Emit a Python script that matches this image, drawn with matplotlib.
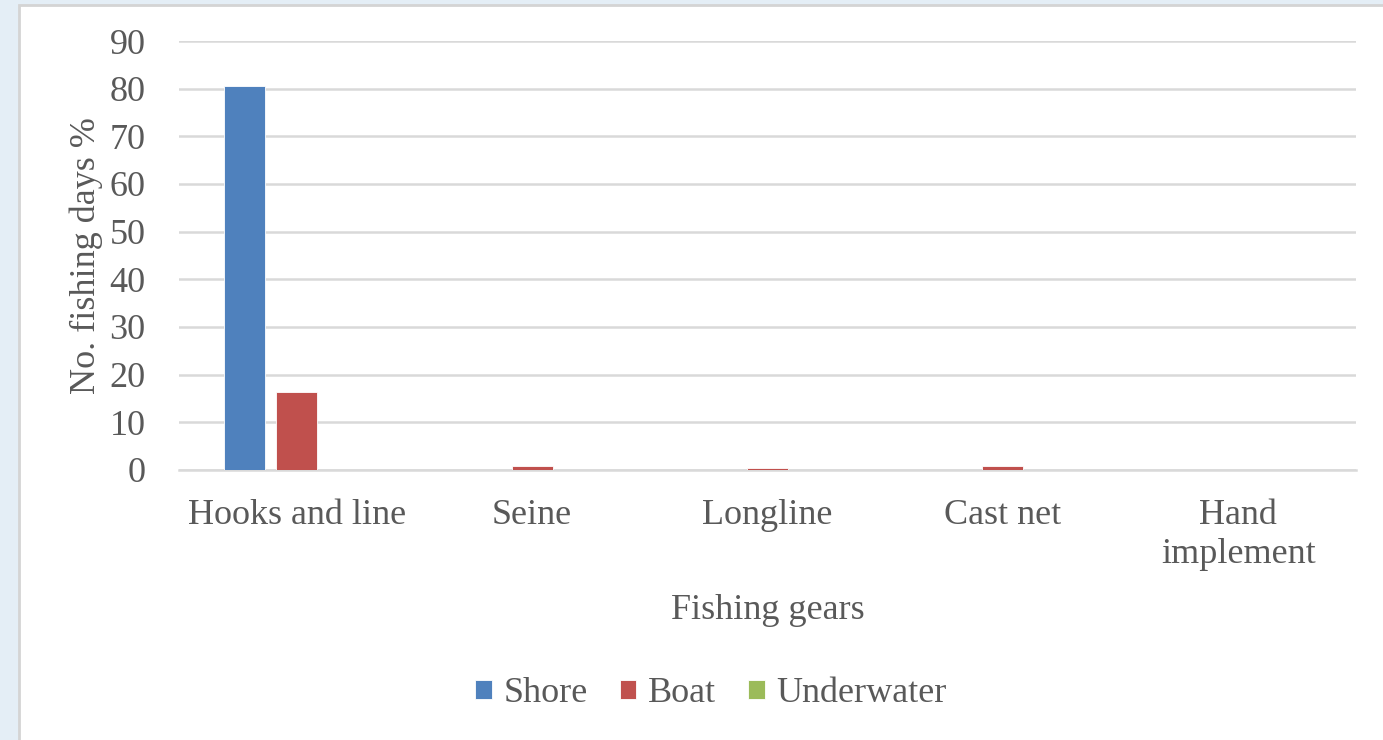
import matplotlib.pyplot as plt
import numpy as np
from matplotlib.patches import Rectangle

plt.rcParams['font.family'] = ['Liberation Serif', 'DejaVu Serif']

# data
gears = ['Hooks and line', 'Seine', 'Longline', 'Cast net', 'Hand\nimplement']
series = ['Shore', 'Boat', 'Underwater']
shore = [80.5, 0, 0, 0, 0]
boat = [16.4, 0.9, 0.5, 0.9, 0]
underwater = [0, 0, 0, 0, 0]
colors = ['#4f81bd', '#c0504d', '#9bbb59']
yticks = [0, 10, 20, 30, 40, 50, 60, 70, 80, 90]

txt = '#595959'
fs = 26

fig = plt.figure(figsize=(13.83, 7.40), dpi=100)
fig.patch.set_facecolor('#e4eef6')
fig.patches.append(Rectangle((19/1383, -0.01), 1.0, 1 - 5/740 + 0.01,
                             transform=fig.transFigure, facecolor='white',
                             edgecolor='#d4d4d4', linewidth=2, zorder=-10))

ax = fig.add_axes([179/1383, 1 - 470/740, (1356 - 179)/1383, (470 - 41)/740])
ax.set_facecolor('none')

x = np.arange(len(gears))
w = 0.175
step = 0.222
for i, (vals, name) in enumerate(zip([shore, boat, underwater], series)):
    ax.bar(x + (i - 1) * step, vals, width=w, color=colors[i], label=name,
           edgecolor='white', linewidth=0.6, zorder=3)

ax.set_xlim(-0.5, len(gears) - 0.5)
ax.set_ylim(0, 90)
ax.set_yticks(yticks)
ax.yaxis.grid(True, color='#d9d9d9', linewidth=1.8, zorder=0)
ax.set_axisbelow(True)
for s in ['top', 'right', 'left']:
    ax.spines[s].set_visible(False)
ax.spines['bottom'].set_color('#d9d9d9')
ax.spines['bottom'].set_linewidth(1.8)
ax.tick_params(axis='both', length=0, labelsize=fs, labelcolor=txt)
ax.tick_params(axis='y', pad=24)
ax.tick_params(axis='x', pad=21)
ax.set_xticks(x)
ax.set_xticklabels(gears, linespacing=1.25)

ax.set_ylabel('No. fishing days %', fontsize=fs, color=txt, labelpad=5)
ax.set_xlabel('Fishing gears', fontsize=fs, color=txt, labelpad=16)

ax.legend(loc='center', bbox_to_anchor=(711/1383, 1 - 694/740),
          bbox_transform=fig.transFigure, ncol=3, frameon=False,
          fontsize=fs, labelcolor=txt, handlelength=0.45, handleheight=0.45,
          handletextpad=0.32, columnspacing=0.9)

fig.savefig('out.png', dpi=100, facecolor=fig.get_facecolor())
